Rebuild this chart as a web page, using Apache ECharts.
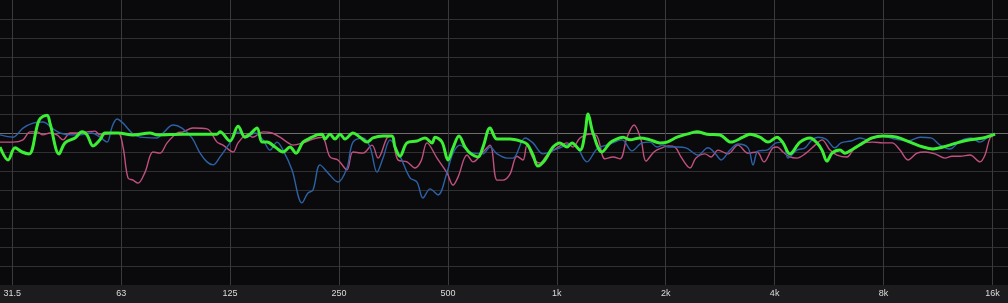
<!DOCTYPE html>
<html><head><meta charset="utf-8">
<script src="https://cdn.jsdelivr.net/npm/echarts@6/dist/echarts.min.js"></script>
<style>html,body{margin:0;padding:0;background:#1c1c1f;}#c{width:1008px;height:303px;}</style>
</head><body><div id="c"></div>
<script>
// x values: octaves above 31.5 Hz; y values: dB
const tickLabels = ['31.5','63','125','250','500','1k','2k','4k','8k','16k'];
const tickOct = [0,1,2,3,4,5,6,7,8,9];

const greenOct = [-0.113,-0.039,0.025,0.089,0.154,0.246,0.319,0.346,0.429,0.484,0.576,0.640,0.686,0.741,0.805,0.851,0.971,1.108,1.264,1.329,1.568,1.880,1.907,1.999,2.073,2.137,2.183,2.247,2.293,2.339,2.413,2.486,2.550,2.605,2.669,2.752,2.798,2.844,2.871,2.917,2.963,3.009,3.055,3.128,3.193,3.257,3.312,3.404,3.486,3.514,3.560,3.624,3.716,3.790,3.854,3.882,3.946,4.001,4.047,4.102,4.157,4.203,4.276,4.322,4.387,4.451,4.570,4.662,4.726,4.781,4.827,4.891,4.965,5.029,5.094,5.139,5.213,5.259,5.287,5.332,5.415,5.488,5.534,5.608,5.672,5.764,5.856,5.947,6.012,6.104,6.195,6.287,6.379,6.498,6.599,6.709,6.773,6.865,6.939,7.022,7.077,7.141,7.233,7.325,7.389,7.435,7.481,7.527,7.600,7.646,7.720,7.812,7.894,7.995,8.124,8.243,8.363,8.454,8.546,8.675,8.794,8.913,9.024];
const greenDb = [-3.7,-7.1,-3.9,-5.0,-5.5,3.4,4.7,2.6,-5.5,-2.6,-1.3,0.3,-0.5,-3.4,-1.8,0,0,-0.5,0,-0.5,-0.3,-0.3,0.3,-2.1,1.8,-1.1,-0.3,1.3,-2.4,-2.4,-3.7,-5.0,-3.7,-5.3,-2.4,-1.1,-0.5,-0.3,-1.6,-0.3,-1.6,-0.3,-1.6,0,-1.1,-2.4,-1.3,-0.8,-0.8,-3.7,-6.1,-2.6,-2.1,-1.3,-2.6,-1.1,-2.4,-7.1,-3.9,-0.8,-3.7,-5.3,-6.3,-3.7,1.3,-1.6,-1.6,-2.1,-2.9,-5.8,-8.7,-7.1,-3.7,-2.6,-3.7,-2.6,-4.5,0,5.0,0,-5.0,-2.6,-1.8,-1.1,-1.8,-1.3,-1.8,-2.6,-2.4,-1.1,-0.3,0.3,-0.3,-0.5,-2.4,-1.1,-0.3,-1.1,-2.4,-1.1,-2.6,-5.5,-2.4,-1.3,-2.6,-4.5,-7.4,-5.3,-4.5,-5.3,-4.2,-2.6,-1.3,-0.8,-1.1,-2.4,-3.7,-4.2,-3.7,-2.6,-1.8,-1.3,-0.3];

const blueOct = [-0.113,0.006,0.098,0.190,0.282,0.365,0.438,0.548,0.622,0.732,0.805,0.870,0.916,0.961,1.017,1.099,1.173,1.329,1.384,1.476,1.558,1.650,1.724,1.788,1.843,1.907,1.999,2.073,2.155,2.229,2.302,2.366,2.431,2.486,2.568,2.660,2.715,2.761,2.825,2.899,2.990,3.073,3.128,3.220,3.285,3.349,3.404,3.469,3.560,3.652,3.716,3.771,3.836,3.909,3.992,4.047,4.111,4.176,4.231,4.322,4.387,4.451,4.543,4.598,4.708,4.781,4.873,5.002,5.149,5.277,5.369,5.488,5.599,5.690,5.782,5.856,5.920,5.975,6.021,6.113,6.186,6.296,6.388,6.453,6.508,6.590,6.664,6.756,6.802,6.848,6.930,7.013,7.077,7.123,7.205,7.279,7.343,7.398,7.472,7.554,7.610,7.701,7.784,7.857,7.977,8.105,8.225,8.335,8.436,8.519,8.610,8.702,8.803,8.886,8.959,9.024];
const blueDb = [-0.5,-1.1,1.3,2.6,2.9,1.3,0,-0.5,-0.5,0,-1.1,-2.4,1.6,3.7,2.6,0,-1.1,-1.3,0,2.1,1.3,-1.3,-5.3,-7.6,-8.4,-6.3,-2.6,0.3,-1.1,0,-1.8,-4.5,-2.4,-4.5,-9.7,-18.4,-15.8,-15.0,-8.4,-10.5,-12.9,-9.2,-2.4,-1.3,-3.7,-10.3,-6.6,-1.8,-6.1,-11.8,-12.9,-17.1,-14.7,-16.3,-10.3,-5.3,-3.2,-4.5,-5.3,-5.5,-3.7,-5.5,-6.6,-6.6,-1.3,-2.6,-5.5,-4.2,-2.6,-7.6,-4.2,-2.9,-1.8,-4.7,-2.6,-2.4,-3.7,-3.2,-3.7,-3.7,-3.9,-5.8,-3.9,-5.3,-7.1,-4.5,-2.9,-3.9,-8.4,-4.7,-4.5,-2.6,-2.4,-6.6,-4.5,-3.9,-1.8,-1.1,-1.6,-3.9,-2.6,-2.1,-1.3,-1.8,-0.8,-1.6,-2.1,-1.1,-1.3,-3.2,-4.2,-2.1,-1.3,-2.4,-1.1,-0.3];

const pinkOct = [-0.113,0.006,0.098,0.163,0.227,0.282,0.346,0.410,0.466,0.530,0.622,0.686,0.759,0.805,0.870,0.971,1.017,1.062,1.108,1.154,1.219,1.292,1.356,1.421,1.513,1.568,1.659,1.788,1.880,1.935,2.027,2.073,2.155,2.210,2.302,2.385,2.458,2.523,2.578,2.669,2.761,2.844,2.917,2.990,3.073,3.128,3.220,3.303,3.358,3.441,3.478,3.542,3.624,3.697,3.753,3.808,3.900,3.992,4.047,4.093,4.176,4.231,4.322,4.387,4.451,4.506,4.570,4.634,4.689,4.726,4.781,4.846,4.910,5.002,5.094,5.149,5.213,5.305,5.369,5.443,5.516,5.580,5.645,5.709,5.773,5.819,5.892,5.966,6.021,6.085,6.140,6.223,6.278,6.360,6.416,6.480,6.572,6.664,6.756,6.838,6.902,6.985,7.022,7.077,7.141,7.205,7.288,7.371,7.435,7.509,7.573,7.665,7.720,7.812,7.904,7.995,8.078,8.151,8.225,8.307,8.381,8.473,8.565,8.629,8.702,8.794,8.886,8.932,8.978,9.024];
const pinkDb = [-2.4,-2.4,-1.8,0.3,0.3,-0.5,0,-0.5,-1.8,0,0,0.3,0.5,-0.5,-0.3,0,-3.7,-11.8,-12.4,-13.2,-10.3,-5.0,-5.3,-2.6,0,0.3,1.3,1.1,-2.4,-3.2,-5.0,-2.6,-0.5,-1.1,0.3,0,-1.1,-2.4,-3.2,-2.6,-1.6,-1.1,-6.3,-7.1,-9.7,-5.0,-5.3,-3.2,-6.6,-1.3,-0.8,-7.1,-7.6,-9.2,-7.4,-2.6,-6.6,-10.5,-13.7,-11.6,-5.8,-7.6,-5.0,-3.2,-12.4,-12.4,-10.8,-6.1,-7.1,-3.2,-6.6,-7.9,-5.8,-3.9,-2.6,-3.7,-1.3,-0.3,-0.8,-6.8,-6.3,-6.8,-1.1,2.1,-1.8,-7.4,-5.0,-3.9,-3.4,-3.7,-6.3,-9.2,-6.6,-5.5,-6.3,-4.5,-5.5,-3.2,-5.3,-5.0,-7.6,-3.9,-3.7,-5.0,-6.3,-6.6,-5.3,-3.2,-1.8,-4.5,-5.8,-6.3,-4.5,-2.6,-2.4,-2.6,-2.6,-4.5,-7.1,-5.3,-5.0,-5.5,-6.6,-6.1,-6.1,-5.8,-7.6,-5.8,-1.3,-0.5];

const yMin = -40, yMax = 35, yStep = 5;
const xMin = -0.113, xMax = 9.143;

function pairs(xs, ys){ return xs.map((x,i)=>[x, ys[i]]); }

// split line colours per y tick (bottom to top); zero line brighter
const yLineColors = [];
for (let v = yMin; v <= yMax; v += yStep) {
  yLineColors.push(v === yMin || v === yMax ? 'rgba(0,0,0,0)' : (v === 0 ? '#6e6e6e' : '#303032'));
}

const chart = echarts.init(document.getElementById('c'), null, {renderer:'canvas'});
chart.setOption({
  backgroundColor: '#1c1c1f',
  animation: false,
  grid: {left: 0, right: 0, top: 0, bottom: 18, show: true, backgroundColor: '#0a0a0d', borderWidth: 0},
  xAxis: {
    type: 'value', min: xMin, max: xMax,
    axisLine: {show: false},
    axisTick: {show: false, customValues: tickOct},
    axisLabel: {customValues: tickOct, formatter: v => tickLabels[Math.round(v)], color: '#dcdcdc', fontSize: 9, fontFamily: 'Liberation Sans, Arial, sans-serif', margin: 4},
    splitLine: {show: true, lineStyle: {color: '#3a3a3c', width: 1}}
  },
  yAxis: {
    type: 'value', min: yMin, max: yMax, interval: yStep,
    axisLine: {show: false}, axisTick: {show: false}, axisLabel: {show: false},
    splitLine: {show: true, lineStyle: {color: yLineColors, width: 1}}
  },
  series: [
    {name: 'pink', type: 'line', data: pairs(pinkOct, pinkDb), showSymbol: false, smooth: 0.35, lineStyle: {color: '#c2507e', width: 1.4}, z: 2},
    {name: 'blue', type: 'line', data: pairs(blueOct, blueDb), showSymbol: false, smooth: 0.35, lineStyle: {color: '#2c62a6', width: 1.4}, z: 3},
    {name: 'green', type: 'line', data: pairs(greenOct, greenDb), showSymbol: false, smooth: 0.35, lineStyle: {color: '#3cef34', width: 3}, z: 4}
  ]
});
</script></body></html>
